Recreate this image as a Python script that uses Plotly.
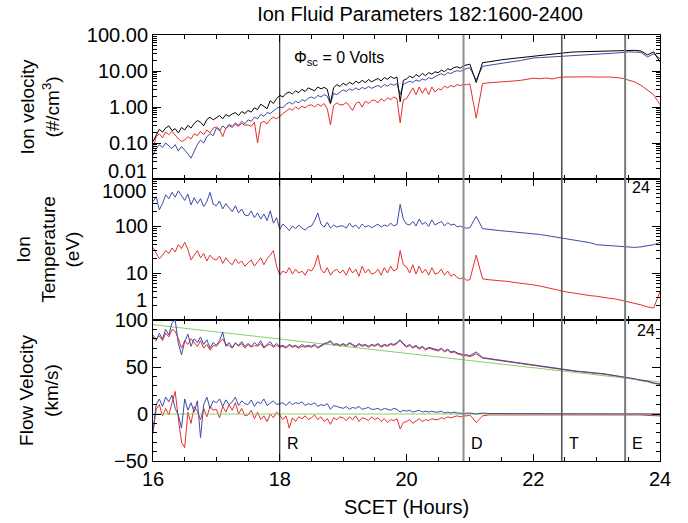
import numpy as np
import plotly.graph_objects as go
from plotly.subplots import make_subplots

# ---------------- time grid (SCET hours) ----------------
hours_fine = np.round(np.arange(16.0, 20.99, 0.05), 2)    # 16.00 .. 20.95
hours_coarse = np.round(np.arange(21.0, 24.01, 0.1), 1)   # 21.0 .. 24.0
hours = np.concatenate([hours_fine, hours_coarse])

# ---------------- panel 1: ion density (#/cm^3) ----------------
dens_total = [
    0.11, 0.16, 0.24, 0.20, 0.26, 0.30, 0.22, 0.25, 0.19, 0.27,
    0.23, 0.31, 0.26, 0.35, 0.42, 0.38, 0.30, 0.45, 0.52, 0.44,
    0.50, 0.58, 0.47, 0.62, 0.55, 0.64, 0.70, 0.58, 0.75, 0.66,
    0.80, 0.72, 0.95, 0.85, 1.20, 1.05, 0.90, 1.50, 1.25, 1.70,
    2.10, 1.90, 2.40, 2.60, 2.30, 2.80, 2.50, 3.10, 2.70, 3.40,
    3.0, 2.8, 3.6, 3.2, 3.5, 3.1, 1.3, 3.4, 4.2, 3.7,
    4.6, 4.0, 4.9, 4.3, 5.2, 4.6, 5.5, 4.8, 5.8, 5.0,
    5.6, 6.2, 5.3, 6.6, 5.9, 7.0, 6.2, 6.8, 1.4, 5.5,
    6.0, 7.2, 6.4, 8.0, 7.0, 8.6, 7.4, 9.0, 8.2, 9.5,
    9.0, 10.5, 9.6, 11.5, 10.8, 12.5, 13.0, 12.0, 14.0, 15.0,
    15.5, 4.8, 17, 18, 19.5, 20.5, 21.5, 22.5, 23.5, 24.5,
    26, 27, 28.5, 30, 31.5, 33, 33.5, 34, 34.5, 35,
    36, 36.5, 37, 37.5, 38, 38, 37.5, 36, 28, 34, 18,
]
dens_blue = [
    0.045, 0.07, 0.09, 0.075, 0.10, 0.085, 0.07, 0.09, 0.06, 0.08,
    0.065, 0.05, 0.038, 0.06, 0.09, 0.12, 0.10, 0.15, 0.18, 0.16,
    0.26, 0.22, 0.30, 0.25, 0.33, 0.29, 0.36, 0.31, 0.40, 0.34,
    0.44, 0.40, 0.52, 0.47, 0.62, 0.55, 0.70, 0.66, 0.80, 0.92,
    1.00, 0.95, 1.20, 1.35, 1.20, 1.45, 1.30, 1.60, 1.45, 1.75,
    1.9, 1.7, 2.1, 1.9, 2.2, 2.0, 1.2, 2.4, 2.2, 2.6,
    3.0, 2.7, 3.2, 2.9, 3.4, 3.0, 3.5, 3.2, 3.7, 3.3,
    3.6, 4.0, 3.5, 4.2, 3.8, 4.4, 4.0, 4.5, 2.2, 4.3,
    4.7, 5.2, 4.8, 5.6, 5.2, 6.0, 5.6, 6.5, 6.1, 7.0,
    7.8, 8.4, 7.6, 9.0, 8.5, 9.6, 10.2, 9.8, 11.0, 11.8,
    12.2, 5.6, 13.5, 14.5, 15.5, 16.6, 17.5, 18.5, 19.5, 21,
    23, 23.5, 24, 24.5, 25.5, 26, 26.5, 27, 27.8, 28.5,
    29.5, 30, 30.5, 31.5, 32.5, 34, 33.5, 33, 24.5, 30, 22,
]
dens_red = [
    0.07, 0.15, 0.18, 0.14, 0.20, 0.17, 0.21, 0.16, 0.13, 0.11,
    0.12, 0.15, 0.13, 0.18, 0.16, 0.21, 0.17, 0.23, 0.19, 0.26,
    0.28, 0.24, 0.15, 0.26, 0.30, 0.27, 0.33, 0.29, 0.35, 0.31,
    0.32, 0.29, 0.38, 0.10, 0.36, 0.40, 0.34, 0.45, 0.52, 0.47,
    0.55, 0.62, 0.75, 0.90, 0.82, 1.0, 0.88, 1.05, 0.95, 1.10,
    1.15, 1.00, 1.20, 1.05, 1.25, 0.90, 0.32, 1.10, 1.30, 1.15,
    1.15, 1.35, 1.05, 0.80, 1.25, 1.40, 1.00, 1.45, 1.25, 1.50,
    1.55, 1.30, 1.70, 1.45, 1.80, 1.60, 1.90, 1.70, 0.36, 1.60,
    1.70, 2.4, 3.4, 2.2, 3.6, 2.4, 3.4, 2.2, 3.6, 2.6,
    3.2, 3.0, 3.8, 3.4, 4.0, 3.6, 4.2, 3.9, 4.3, 4.1,
    4.4, 0.49, 4.5, 4.7, 4.8, 4.9, 5.1, 5.3, 5.5, 5.8,
    6.3, 6.1, 6.4, 6.0, 6.6, 6.8, 6.9, 7.0, 7.0, 6.9,
    6.8, 6.9, 6.8, 6.6, 6.3, 5.6, 5.0, 4.0, 3.0, 2.2, 1.15,
]

# ---------------- panel 2: ion temperature (eV) ----------------
temp_blue = [
    330, 420, 220, 300, 460, 380, 520, 410, 560, 450,
    350, 480, 280, 400, 300, 380, 260, 330, 520, 290,
    270, 340, 230, 300, 240, 200, 270, 190, 230, 170,
    165, 210, 150, 190, 140, 180, 130, 210, 115, 150,
    85, 110, 95, 80, 100, 88, 105, 90, 82, 95,
    100, 130, 190, 110, 95, 120, 90, 105, 95, 100,
    100, 90, 115, 95, 105, 88, 110, 95, 102, 92,
    100, 110, 95, 105, 98, 115, 100, 108, 290, 140,
    110, 105, 125, 100, 140, 108, 120, 98, 135, 105,
    115, 125, 100, 118, 105, 110, 96, 100, 92, 90,
    92, 160, 88, 84, 82, 79, 77, 75, 73, 70,
    68, 66, 63, 60, 56, 53, 50, 48, 46, 44,
    40, 39, 38, 37, 36, 35, 35, 36, 38, 40, 45,
]
temp_red = [
    35, 26, 20, 24, 30, 26, 34, 28, 40, 33,
    45, 32, 19, 24, 30, 21, 26, 18, 24, 20,
    19, 23, 16, 21, 17, 15, 20, 16, 18, 14,
    16, 19, 14, 17, 21, 15, 20, 24, 30, 14,
    9, 11, 10, 13, 9.5, 12, 10, 11, 9, 12,
    11, 14, 24, 12, 10, 13, 9, 11, 12, 10,
    11.5, 9, 13, 10, 12, 8.5, 14, 10, 12, 9.5,
    10, 12, 9, 13, 10, 14, 11, 12, 30, 15,
    13.5, 10, 15, 9.5, 14, 10, 12, 9, 13, 9.5,
    10, 12, 9, 11, 8.5, 9.5, 8, 7.5, 8, 7,
    7.2, 24, 7.5, 7.2, 7.0, 7.0, 6.6, 6.3, 6.1, 5.8,
    5.6, 5.3, 5.0, 4.7, 4.3, 4.0, 3.8, 3.6, 3.4, 3.3,
    3.2, 3.0, 2.9, 2.8, 2.6, 2.5, 2.3, 2.1, 1.9, 1.8, 4.0,
]

# ---------------- panel 3: flow velocity (km/s) ----------------
flow_radial_blue = [
    82, 78, 86, 80, 90, 84, 97, 100, 75, 63,
    77, 85, 72, 80, 76, 82, 74, 79, 70, 76,
    73, 78, 87, 72, 76, 71, 75, 73, 77, 72,
    75, 72, 76, 73, 78, 71, 74, 77, 72, 75,
    72, 73, 71, 74, 72, 73, 71, 74, 72, 73,
    72, 74, 71, 73, 75, 76, 78, 74, 75, 73,
    75, 73, 76, 74, 72, 75, 73, 74, 72, 74,
    73, 75, 72, 74, 73, 75, 74, 76, 79, 75,
    72, 74, 71, 73, 70, 72, 69, 71, 70, 69,
    68, 70, 67, 69, 66, 67, 65, 64, 63, 63,
    62, 66, 60, 59, 58, 57, 56, 55, 54, 53,
    52, 51, 50, 49, 48, 47, 46, 45.5, 45, 44,
    43.6, 43, 42, 41, 40, 38.6, 37.5, 36, 35, 33, 32,
]
flow_radial_red = [
    84, 80, 83, 78, 86, 82, 90, 88, 80, 70,
    78, 74, 80, 76, 72, 78, 70, 74, 68, 73,
    72, 76, 80, 74, 73, 70, 76, 72, 75, 70,
    74, 71, 73, 72, 75, 70, 73, 74, 71, 73,
    71, 72, 70, 73, 71, 72, 70, 72, 71, 72,
    71, 73, 70, 72, 74, 75, 77, 73, 74, 72,
    74, 72, 75, 73, 71, 74, 72, 73, 71, 73,
    72, 74, 71, 73, 72, 74, 73, 75, 78, 74,
    71, 73, 70, 72, 69, 71, 68, 70, 69, 68,
    67, 69, 66, 68, 65, 66, 64, 63, 62, 62,
    61, 64, 59.5, 58.5, 57.5, 56.5, 55.5, 54.5, 53.5, 52.5,
    51.5, 50.5, 49.5, 48.5, 47.5, 46.5, 45.5, 45, 44.5, 43.5,
    43, 42.5, 41.5, 40.5, 39.5, 38, 37, 35.5, 34.5, 32.5, 31.5,
]
flow_perp_blue = [
    -18, 10, 16, 8, 18, 13, 20, 6, -1, -15,
    16, 4, 12, 2, 14, -25, 10, 18, 6, 14,
    12, 16, 8, 15, 10, 13, 18, 9, 14, 11,
    10, 15, 8, 13, 11, 16, 9, 12, 14, 10,
    11, 12, 9, 13, 10, 12, 11, 13, 9, 11,
    10, 12, 8, 10, 9, 11, 5, 9, 8, 7,
    6, 8, 5, 7, 6, 8, 5, 6, 7, 5,
    5, 6, 4, 6, 5, 4, 6, 5, 2, 4,
    3, 4, 2, 3, 4, 2, 3, 2, 3, 2,
    2, 3, 1, 2, 1, 2, 1, 1, 0, 1,
    1, 0, 1, 0.5, 0.5, 0.5, 0, 0.5, 0.5, 0,
    0.5, 0.5, 0, 0.5, 0.5, 0, 0.5, 0.5, 0, 0.5,
    0.5, 0, 0.5, 0.5, 0, 0.5, 0.5, 0, 0.5, 0.5, 0,
]
flow_perp_red = [
    -20, 5, 10, -2, 6, -1, 12, 24, -5, -30,
    -36, 2, -10, 8, 3, -6, 6, -3, 8, 4,
    5, -4, 8, 2, 10, 4, 12, 0, 6, -2,
    -1, 4, -5, 2, -6, -2, -8, 0, -4, 2,
    -1, -6, -2, -15, -4, -8, -3, -5, -2, -6,
    -4, -1, -6, -3, -8, -5, -11, -4, -6, -3,
    -4, -7, -3, -6, -2, -8, -4, -5, -7, -3,
    -6, -4, -8, -5, -9, -6, -7, -5, -16, -9,
    -8, -6, -10, -7, -5, -8, -6, -7, -5, -6,
    -6, -4, -5, -3, -4, -3, -2, -3, -2, -2,
    -1, -9, -2, -1, -1, -1, -0.5, -1, -0.5, -1,
    -0.5, -0.5, -0.5, -0.5, -0.5, -0.5, -0.5, -0.5, -0.5, -0.5,
    -0.5, -0.5, -0.5, -0.5, -0.5, -0.5, -0.5, -1, -1.5, -2, -2,
]
# model (corotation-like) reference lines
model_hours = [16.0, 24.0]
model_radial = [95, 34]
model_perp = [0, 0]

# event markers
event_hours = [18.0, 20.9, 22.45, 23.45]
event_labels = ["R", "D", "T", "E"]
event_colors = ["#000000", "#8c8c8c", "#555555", "#7a7a7a"]
event_widths = [1, 2, 1.6, 2]

for arr in [dens_total, dens_blue, dens_red, temp_blue, temp_red,
            flow_radial_blue, flow_radial_red, flow_perp_blue, flow_perp_red]:
    assert len(arr) == len(hours), len(arr)

BLACK = "#000000"
BLUE = "#3b4ba8"
RED = "#e62e2b"
GREEN = "#86d06a"
FONT = "Liberation Sans, Arial, Helvetica, sans-serif"

fig = make_subplots(rows=3, cols=1, shared_xaxes=True, vertical_spacing=0,
                    row_heights=[144, 141, 141])


def line(x, y, color, row):
    fig.add_trace(go.Scatter(x=x, y=y, mode="lines", showlegend=False,
                             line=dict(color=color, width=1)), row=row, col=1)


line(hours, dens_red, RED, 1)
line(hours, dens_blue, BLUE, 1)
line(hours, dens_total, BLACK, 1)
line(hours, temp_blue, BLUE, 2)
line(hours, temp_red, RED, 2)
line(hours, flow_radial_red, RED, 3)
line(hours, flow_perp_red, RED, 3)
line(model_hours, model_radial, GREEN, 3)
line(model_hours, model_perp, GREEN, 3)
line(hours, flow_radial_blue, BLUE, 3)
line(hours, flow_perp_blue, BLUE, 3)

common = dict(showline=True, linecolor="black", linewidth=1, mirror="ticks",
              ticks="inside", tickcolor="black", showgrid=False, zeroline=False,
              automargin=False,
              tickfont=dict(size=20, color="black", family=FONT))

xminor = dict(ticks="inside", ticklen=4, dtick=0.5, tick0=16, tickcolor="black", showgrid=False)
for r in (1, 2, 3):
    fig.update_xaxes(range=[16, 24], tickvals=[16, 18, 20, 22, 24], ticklen=7,
                     minor=xminor, row=r, col=1, **common)

fig.update_xaxes(title=dict(text="SCET (Hours)", font=dict(size=20, family=FONT), standoff=10),
                 row=3, col=1)


def log_minor(e0, e1):
    return [m * 10.0 ** e for e in range(e0, e1) for m in range(2, 10)]


fig.update_yaxes(type="log", range=[-2, 2],
                 tickvals=[0.1, 1, 10, 100],
                 ticktext=["0.10", "1.00", "10.00", "100.00"], ticklen=8,
                 minor=dict(ticks="inside", ticklen=4, tickmode="array",
                            tickvals=log_minor(-2, 2), tickcolor="black", showgrid=False),
                 title=dict(text="Ion velocity<br>(#/cm<sup>3</sup>)", font=dict(size=19, family=FONT),
                            standoff=22),
                 row=1, col=1, **common)
fig.update_yaxes(type="log", range=[0, 3],
                 tickvals=[10, 100],
                 ticktext=["10", "100"], ticklen=8,
                 minor=dict(ticks="inside", ticklen=4, tickmode="array",
                            tickvals=log_minor(0, 3), tickcolor="black", showgrid=False),
                 title=dict(text="Ion<br>Temperature<br>(eV)", font=dict(size=19, family=FONT),
                            standoff=29),
                 row=2, col=1, **common)
fig.update_yaxes(range=[-50, 100], tickvals=[-50, 0, 50, 100], ticklen=8,
                 minor=dict(ticks="inside", ticklen=4, dtick=10, tick0=0,
                            tickcolor="black", showgrid=False),
                 title=dict(text="Flow Velocity<br>(km/s)", font=dict(size=19, family=FONT),
                            standoff=50),
                 row=3, col=1, **common)

for h, c, w in zip(event_hours, event_colors, event_widths):
    fig.add_shape(type="line", xref="x", yref="paper", x0=h, x1=h, y0=0, y1=1,
                  line=dict(color=c, width=w), layer="above")

ann = []
# edge tick labels shifted inward (as in the original)
ann.append(dict(text="0.01", xref="paper", yref="y", x=0, y=-2, yshift=8,
                xanchor="right", yanchor="middle", xshift=-4, showarrow=False,
                font=dict(size=20, family=FONT, color="black")))
ann.append(dict(text="1000", xref="paper", yref="y2", x=0, y=3, yshift=-12,
                xanchor="right", yanchor="middle", xshift=-4, showarrow=False,
                font=dict(size=20, family=FONT, color="black")))
ann.append(dict(text="1", xref="paper", yref="y2", x=0, y=0, yshift=20,
                xanchor="right", yanchor="middle", xshift=-4, showarrow=False,
                font=dict(size=20, family=FONT, color="black")))
ann.append(dict(text="Φ<sub>sc</sub> = 0 Volts", xref="paper", yref="paper",
                x=0.274, y=0.946, xanchor="left", yanchor="middle", showarrow=False,
                font=dict(size=16, family=FONT, color="black")))
ann.append(dict(text="24", xref="paper", yref="paper", x=0.984, y=0.641,
                xanchor="right", yanchor="middle", showarrow=False,
                font=dict(size=16, family=FONT, color="black")))
ann.append(dict(text="24", xref="paper", yref="paper", x=0.994, y=0.3075,
                xanchor="right", yanchor="middle", showarrow=False,
                font=dict(size=16, family=FONT, color="black")))
for h, lab in zip(event_hours, event_labels):
    ann.append(dict(text=lab, xref="x", yref="paper", x=h, y=0.042, xshift=5,
                    xanchor="left", yanchor="middle", showarrow=False,
                    font=dict(size=16, family=FONT, color="black")))

fig.update_layout(
    width=688, height=523,
    margin=dict(l=153, r=28, t=35, b=62, autoexpand=False),
    paper_bgcolor="white", plot_bgcolor="white",
    font=dict(family=FONT, color="black"),
    title=dict(text="Ion Fluid Parameters 182:1600-2400", x=0.6105, xref="container",
               y=0.973, yref="container", xanchor="center", yanchor="middle",
               font=dict(size=20, family=FONT, color="black")),
    annotations=ann,
)

fig.write_html("out.html")
